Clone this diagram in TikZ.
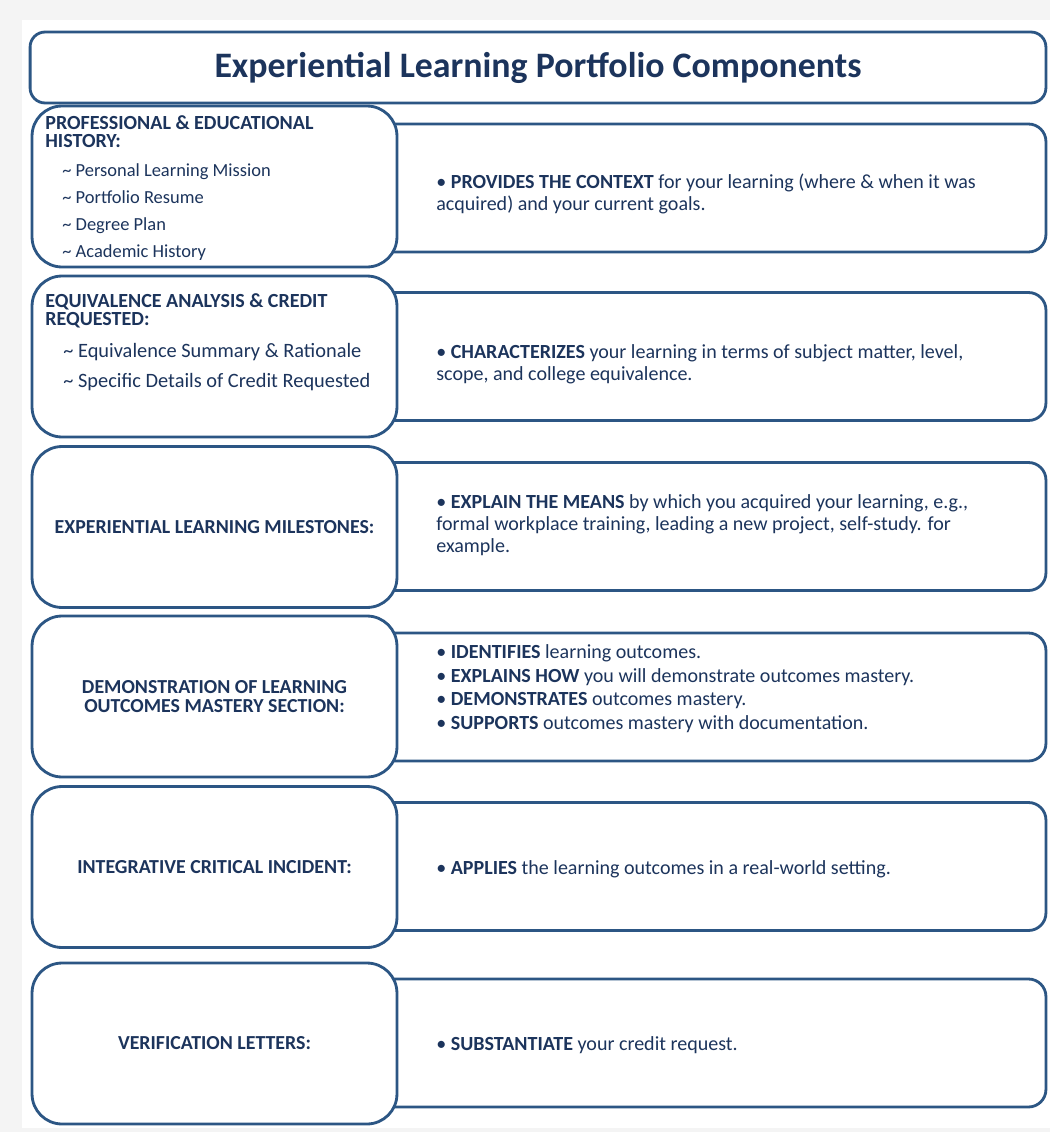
\documentclass[tikz,border=0pt]{standalone}
\usepackage{fontspec}
\setmainfont{Carlito}
\usepackage{tikz}
\usetikzlibrary{positioning}

\definecolor{boxblue}{RGB}{44,86,132}
\definecolor{inkblue}{RGB}{28,52,92}
\definecolor{pagegray}{RGB}{244,244,244}

\begin{document}
\begin{tikzpicture}[x=0.02cm,y=-0.02cm,
  box/.style={draw=boxblue,line width=1.6pt,fill=white,inner sep=0pt},
  titlebox/.style={box,rounded corners=0.3cm,minimum width=20.32cm,minimum height=1.42cm,
    font=\bfseries\fontsize{20.4}{22}\selectfont,text=inkblue},
  leftbox/.style={box,rounded corners=0.6cm,minimum width=7.3cm,minimum height=3.22cm,
    font=\bfseries\fontsize{11.3}{10.8}\selectfont,text=inkblue,align=center},
  rightbox/.style={box,rounded corners=0.35cm,minimum width=13.72cm,minimum height=2.56cm},
  head/.style={font=\bfseries\fontsize{11.4}{10.2}\selectfont,text=inkblue,align=left,anchor=west,inner sep=0pt},
  sub/.style={text=inkblue,align=left,anchor=west,inner sep=0pt},
  info/.style={font=\fontsize{11.4}{12.5}\selectfont,text=inkblue,align=left,anchor=west,inner sep=0pt}]

% page
\fill[pagegray] (0,0) rectangle (1050,1132);
\fill[white] (22,20) rectangle (1050,1128);

% title
\node[titlebox] (title) at (538,67.5) {Experiential Learning Portfolio Components};

% right boxes first, the left ones sit on top
\node[rightbox] (r1) at (703,188)    {};
\node[rightbox] (r2) at (703,356.5)  {};
\node[rightbox] (r3) at (703,526.5)  {};
\node[rightbox] (r4) at (703,697)    {};
\node[rightbox] (r5) at (703,866.5)  {};
\node[rightbox] (r6) at (703,1043)   {};

\node[leftbox] (l1) at (214.5,186.5) {};
\node[leftbox] (l2) at (214.5,356.5) {};
\node[leftbox] (l3) at (214.5,527)   {EXPERIENTIAL LEARNING MILESTONES:};
\node[leftbox] (l4) at (214.5,696.5) {DEMONSTRATION OF LEARNING\\OUTCOMES MASTERY SECTION:};
\node[leftbox] (l5) at (214.5,867)   {INTEGRATIVE CRITICAL INCIDENT:};
\node[leftbox] (l6) at (214.5,1043.5){VERIFICATION LETTERS:};

% headings and items of the first two rows
\node[head] (h1) at (45,132) {PROFESSIONAL \& EDUCATIONAL\\HISTORY:};
\node[sub,font=\fontsize{10.5}{15.3}\selectfont] (s1) at (62,212)
  {\textasciitilde\ Personal Learning Mission\\\textasciitilde\ Portfolio Resume\\
   \textasciitilde\ Degree Plan\\\textasciitilde\ Academic History};
\node[head] (h2) at (45,311) {EQUIVALENCE ANALYSIS \& CREDIT\\REQUESTED:};
\node[sub,font=\fontsize{11.6}{17}\selectfont] (s2) at (63,367)
  {\textasciitilde\ Equivalence Summary \& Rationale\\\textasciitilde\ Specific Details of Credit Requested};

% right texts
\node[info] (t1) at (436,194)
  {\textbullet\ \textbf{PROVIDES THE CONTEXT} for your learning (where \& when it was\\acquired) and your current goals.};
\node[info] (t2) at (436,364)
  {\textbullet\ \textbf{CHARACTERIZES} your learning in terms of subject matter, level,\\scope, and college equivalence.};
\node[info] (t3) at (436,525)
  {\textbullet\ \textbf{EXPLAIN THE MEANS} by which you acquired your learning, e.g.,\\formal workplace training, leading a new project, self-study. for\\example.};
\node[info,font=\fontsize{11.4}{13.4}\selectfont] (t4) at (436,688.5)
  {\textbullet\ \textbf{IDENTIFIES} learning outcomes.\\
   \textbullet\ \textbf{EXPLAINS HOW} you will demonstrate outcomes mastery.\\
   \textbullet\ \textbf{DEMONSTRATES} outcomes mastery.\\
   \textbullet\ \textbf{SUPPORTS} outcomes mastery with documentation.};
\node[info] (t5) at (436,869)
  {\textbullet\ \textbf{APPLIES} the learning outcomes in a real-world setting.};
\node[info] (t6) at (436,1045)
  {\textbullet\ \textbf{SUBSTANTIATE} your credit request.};

\end{tikzpicture}
\end{document}
